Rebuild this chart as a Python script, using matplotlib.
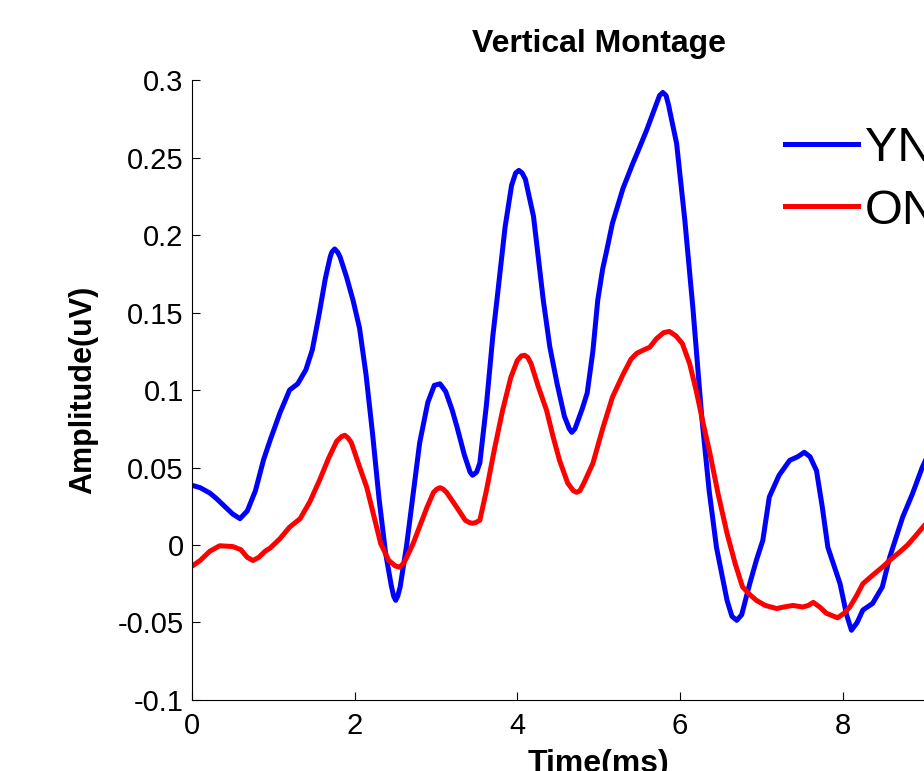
import matplotlib
matplotlib.use("Agg")
import matplotlib.pyplot as plt

plt.rcParams['font.family'] = ['Liberation Sans', 'DejaVu Sans']

# YN curve (time in ms, amplitude in uV)
yn_t = [0.00, 0.10, 0.22, 0.30, 0.40, 0.50, 0.59, 0.68, 0.78, 0.88, 0.96, 1.08,
        1.20, 1.30, 1.40, 1.48, 1.56, 1.64, 1.70, 1.72, 1.755, 1.79, 1.82, 1.90, 1.98, 2.06,
        2.14, 2.22, 2.30, 2.38, 2.45, 2.48, 2.505, 2.53, 2.56, 2.64, 2.71, 2.80, 2.90, 2.98,
        3.05, 3.12, 3.20, 3.26, 3.35, 3.42, 3.45, 3.50, 3.54, 3.62, 3.70, 3.75, 3.85,
        3.93, 3.98, 4.02, 4.06, 4.10, 4.20, 4.32, 4.40, 4.49, 4.58, 4.64, 4.67, 4.71, 4.80, 4.86,
        4.93, 4.99, 5.05, 5.10, 5.17, 5.30, 5.42, 5.50, 5.59, 5.70, 5.75, 5.79, 5.83, 5.86,
        5.96, 6.06, 6.16, 6.27, 6.36, 6.45, 6.58, 6.64, 6.70, 6.76, 6.86, 6.94,
        7.02, 7.10, 7.22, 7.35, 7.45, 7.53, 7.60, 7.68, 7.75, 7.82, 7.97, 8.05,
        8.11, 8.18, 8.25, 8.37, 8.49, 8.58, 8.66, 8.74, 8.86, 8.98, 9.05]
yn_v = [0.0385, 0.037, 0.0335, 0.030, 0.025, 0.020, 0.017, 0.022, 0.035, 0.055, 0.0675, 0.085,
        0.100, 0.104, 0.113, 0.126, 0.148, 0.172, 0.186, 0.189, 0.191, 0.189, 0.186, 0.173, 0.158, 0.140,
        0.110, 0.072, 0.030, -0.005, -0.026, -0.033, -0.0357, -0.033, -0.027, 0.000, 0.029, 0.066, 0.092, 0.103,
        0.104, 0.099, 0.087, 0.076, 0.058, 0.047, 0.045, 0.047, 0.053, 0.090, 0.135, 0.158, 0.205,
        0.232, 0.240, 0.2417, 0.240, 0.236, 0.212, 0.158, 0.128, 0.104, 0.083, 0.075, 0.0727, 0.075, 0.088, 0.098,
        0.125, 0.158, 0.178, 0.190, 0.2075, 0.230, 0.246, 0.256, 0.2675, 0.283, 0.290, 0.292, 0.290, 0.284,
        0.259, 0.210, 0.153, 0.082, 0.035, -0.0015, -0.0357, -0.046, -0.0486, -0.045, -0.0248, -0.010,
        0.003, 0.031, 0.045, 0.0546, 0.057, 0.0598, 0.057, 0.048, 0.025, -0.0015, -0.025, -0.045,
        -0.055, -0.050, -0.042, -0.0377, -0.027, -0.008, 0.005, 0.018, 0.033, 0.050, 0.058]

# ON curve
on_t = [0.00, 0.10, 0.22, 0.34, 0.50, 0.60, 0.68, 0.75, 0.82, 0.90, 0.96, 1.08,
        1.20, 1.33, 1.45, 1.57, 1.68, 1.78, 1.84, 1.88, 1.92, 1.96, 2.05, 2.15, 2.24, 2.32,
        2.42, 2.50, 2.55, 2.60, 2.64, 2.72, 2.80, 2.89, 2.97, 3.01, 3.05, 3.09, 3.13, 3.26, 3.36, 3.41, 3.45,
        3.49, 3.54, 3.62, 3.72, 3.82, 3.92, 4.00, 4.05, 4.09, 4.13, 4.17, 4.26, 4.36, 4.44, 4.52,
        4.62, 4.69, 4.73, 4.77, 4.82, 4.93, 5.05, 5.17, 5.30, 5.40, 5.47, 5.56, 5.63, 5.71,
        5.80, 5.87, 5.95, 6.03, 6.12, 6.20, 6.28, 6.37, 6.47, 6.58, 6.68, 6.77,
        6.86, 6.94, 7.05, 7.19, 7.28, 7.39, 7.51, 7.58, 7.64, 7.72, 7.80, 7.94,
        8.02, 8.09, 8.17, 8.25, 8.37, 8.49, 8.60, 8.70, 8.80, 8.90, 8.98, 9.05]
on_v = [-0.0137, -0.010, -0.004, -0.0005, -0.001, -0.003, -0.008, -0.010, -0.008, -0.004, -0.002, 0.004,
        0.0115, 0.017, 0.028, 0.042, 0.056, 0.067, 0.070, 0.0708, 0.069, 0.066, 0.052, 0.037, 0.018, 0.001,
        -0.010, -0.0135, -0.0143, -0.012, -0.008, 0.001, 0.012, 0.0243, 0.034, 0.036, 0.037, 0.036, 0.034, 0.024, 0.016, 0.0145, 0.014,
        0.0145, 0.016, 0.035, 0.062, 0.087, 0.108, 0.119, 0.122, 0.1224, 0.121, 0.117, 0.102, 0.087, 0.070, 0.0546,
        0.040, 0.035, 0.034, 0.035, 0.040, 0.0527, 0.075, 0.0953, 0.110, 0.120, 0.1237, 0.126, 0.1276, 0.133,
        0.137, 0.1378, 0.135, 0.130, 0.117, 0.0998, 0.080, 0.059, 0.033, 0.0075, -0.012, -0.027,
        -0.032, -0.0357, -0.039, -0.041, -0.040, -0.039, -0.040, -0.039, -0.037, -0.040, -0.044, -0.047,
        -0.044, -0.040, -0.033, -0.025, -0.0195, -0.0143, -0.009, -0.0047, 0.000, 0.006, 0.011, 0.015]

x_ticks = [0, 2, 4, 6, 8, 10]
y_ticks = [-0.1, -0.05, 0, 0.05, 0.1, 0.15, 0.2, 0.25, 0.3]
y_tick_labels = ['-0.1', '-0.05', '0', '0.05', '0.1', '0.15', '0.2', '0.25', '0.3']

fig = plt.figure(figsize=(9.24, 7.71), dpi=100)
# axes run past the right edge of the picture, as in the cropped original
ax = fig.add_axes([0.2078, 0.0921, 0.880, 0.8041])

ax.plot(yn_t, yn_v, color='#0000ff', lw=3.6, label='YN')
ax.plot(on_t, on_v, color='#ff0000', lw=3.6, label='ON')

ax.set_xlim(0, 10)
ax.set_ylim(-0.1, 0.3)
ax.set_xticks(x_ticks)
ax.set_yticks(y_ticks)
ax.set_yticklabels(y_tick_labels)
ax.tick_params(direction='in', length=6, width=0.8, labelsize=21, colors='black')
ax.tick_params(axis='x', pad=9)
ax.tick_params(axis='y', pad=6)
ax.spines['top'].set_visible(False)
ax.spines['right'].set_visible(False)
ax.spines['left'].set_linewidth(0.8)
ax.spines['bottom'].set_linewidth(0.8)

ax.set_title('Vertical Montage', fontsize=23, fontweight='bold', pad=20)
ax.set_ylabel('Amplitude(uV)', fontsize=22, fontweight='bold', labelpad=14)
ax.set_xlabel('Time(ms)', fontsize=23, fontweight='bold', labelpad=6)

ax.legend(loc='upper left', bbox_to_anchor=(785 / 924, 1 - 126 / 771),
          bbox_transform=fig.transFigure, frameon=False, fontsize=35,
          handlelength=1.5, handletextpad=0.15, labelspacing=0.36,
          borderpad=0, borderaxespad=0)

fig.savefig('out.png', dpi=100)
